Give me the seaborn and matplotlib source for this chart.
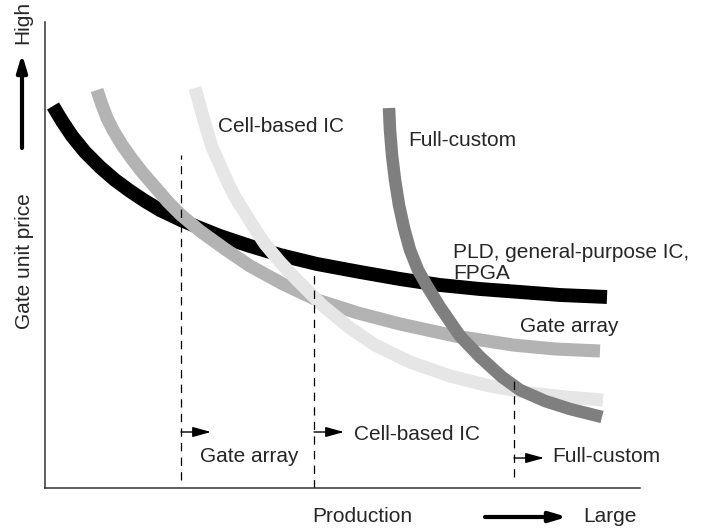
import matplotlib
matplotlib.use("Agg")
import matplotlib.pyplot as plt
import seaborn as sns
import pandas as pd

# values (production -> right, price -> up),
# in picture pixels: production = px - 45, price = 488 - py
pld_px = [53, 62, 72, 85, 100, 115, 130, 145, 160, 181, 200, 220, 250, 280,
          317, 360, 400, 440, 480, 520, 560, 607]
pld_py = [106, 121, 136, 152, 167, 180, 191, 201, 210, 220, 228, 236, 246, 255,
          264, 272, 279, 285, 289, 292, 295, 297]

gate_px = [97, 102, 107, 113, 122, 132, 142, 155, 168, 181, 200, 225, 250, 283,
           317, 358, 400, 455, 513, 555, 600]
gate_py = [90, 105, 118, 130, 145, 159, 172, 187, 202, 215, 231, 249, 266, 284,
           300, 313, 324, 336, 345, 349, 351]

cell_px = [195, 200, 205, 212, 220, 228, 235, 245, 255, 265, 280, 297, 323, 350,
           375, 410, 450, 490, 530, 565, 603]
cell_py = [88, 106, 124, 147, 165, 183, 197, 213, 229, 244, 262, 280, 306, 328,
           345, 362, 376, 386, 393, 397, 400]

full_px = [389, 390, 392, 395, 399, 404, 410, 418, 427, 440, 460, 480, 502, 520,
           545, 570, 602]
full_py = [108, 130, 155, 180, 205, 228, 250, 270, 286, 307, 336, 357, 377, 390,
           401, 409, 417]

# break-even production levels (dashed lines) and their ranges
split_x = [136, 269, 469]
split_top = [333, 215, 113]
split_bottom = [8, 0, 11]
region_labels = ["Gate array", "Cell-based IC", "Full-custom"]
region_arrow_y = [56, 56, 30]
region_text_x = [155, 309, 507]
region_text_y = [31, 53, 31]


def to_data(px, py):
    return [p - 45 for p in px], [488 - p for p in py]


sns.set_style("white")
plt.rcParams["font.family"] = ["Liberation Sans", "DejaVu Sans"]
plt.rcParams["lines.scale_dashes"] = False

fig = plt.figure(figsize=(7.1, 5.31), dpi=100)
ax = fig.add_axes([45 / 710, 43 / 531, 595 / 710, 466 / 531])

curves = [
    (pld_px, pld_py, "#000000", 10.0),
    (gate_px, gate_py, "#b3b3b3", 9.4),
    (cell_px, cell_py, "#e6e6e6", 9.4),
    (full_px, full_py, "#7f7f7f", 9.0),
]
for px, py, col, lw in curves:
    cx, cy = to_data(px, py)
    df = pd.DataFrame({"production": cx, "price": cy})
    sns.lineplot(data=df, x="production", y="price", color=col, linewidth=lw,
                 estimator=None, sort=False, ax=ax,
                 solid_capstyle="butt", solid_joinstyle="round")

for sx, top, bot in zip(split_x, split_top, split_bottom):
    ax.plot([sx, sx], [bot, top], color="black", lw=0.9, dashes=(6, 4.5))

fs = 15
small_head = "-|>,head_length=0.8,head_width=0.22"
for sx, ay, lab, tx, ty in zip(split_x, region_arrow_y, region_labels,
                               region_text_x, region_text_y):
    ax.annotate("", xy=(sx + 30, ay), xytext=(sx, ay),
                arrowprops=dict(arrowstyle=small_head, mutation_scale=14,
                                color="black", lw=1.0, shrinkA=0, shrinkB=0))
    ax.text(tx, ty, lab, fontsize=fs, ha="left", va="center")

ax.text(173, 361, "Cell-based IC", fontsize=fs, ha="left", va="center")
ax.text(363, 348, "Full-custom", fontsize=fs, ha="left", va="center")
ax.text(408, 225, "PLD, general-purpose IC,\nFPGA", fontsize=fs,
        ha="left", va="center", linespacing=1.15)
ax.text(475, 161, "Gate array", fontsize=fs, ha="left", va="center")

# axis captions with arrows
big_head = "-|>,head_length=1.0,head_width=0.3"
ax.text(317, -29, "Production", fontsize=fs, ha="center", va="center")
ax.annotate("", xy=(522, -29), xytext=(440, -29), annotation_clip=False,
            arrowprops=dict(arrowstyle=big_head, color="black", lw=3.0,
                            shrinkA=0, shrinkB=0))
ax.text(538, -29, "Large", fontsize=fs, ha="left", va="center")

ax.text(-21, 227, "Gate unit price", fontsize=fs, rotation=90,
        ha="center", va="center")
ax.annotate("", xy=(-23, 434), xytext=(-23, 340), annotation_clip=False,
            arrowprops=dict(arrowstyle=big_head, color="black", lw=3.0,
                            shrinkA=0, shrinkB=0))
ax.text(-22, 466, "High", fontsize=fs, rotation=90, ha="center", va="center")

ax.set_xlim(0, 595)
ax.set_ylim(0, 466)
ax.set_xticks([])
ax.set_yticks([])
ax.set_xlabel("")
ax.set_ylabel("")
sns.despine(ax=ax)
for side in ["left", "bottom"]:
    ax.spines[side].set_color("#333333")
    ax.spines[side].set_linewidth(1.1)

fig.savefig("out.png", dpi=100)
